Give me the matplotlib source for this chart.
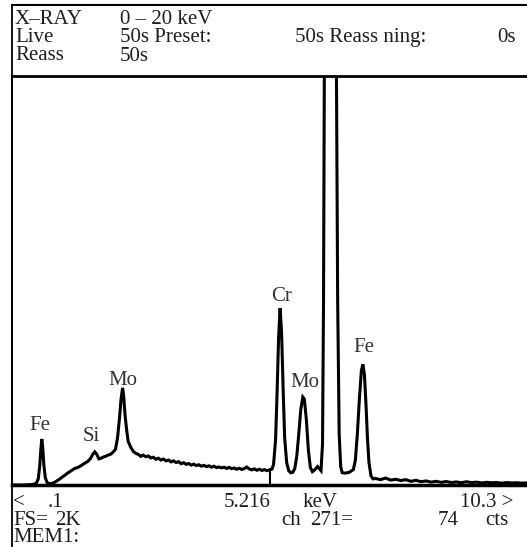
import matplotlib
matplotlib.use("Agg")
import matplotlib.pyplot as plt
from matplotlib.lines import Line2D

# Widmo EDS (keV, zliczenia)
energy_kev = [0.10, 0.30, 0.50, 0.58, 0.62, 0.65, 0.67, 0.69, 0.71, 0.73, 0.76, 0.80, 0.85, 0.90,
              0.95, 1.00, 1.05, 1.10, 1.15, 1.20, 1.25, 1.30, 1.35, 1.40, 1.45, 1.50, 1.55, 1.60,
              1.65, 1.70, 1.74, 1.78, 1.82, 1.86, 1.90, 1.95, 2.00, 2.05, 2.10, 2.15, 2.19, 2.23,
              2.26, 2.29, 2.31, 2.34, 2.37, 2.40, 2.45, 2.50, 2.55, 2.60, 2.65, 2.70, 2.75, 2.80,
              2.85, 2.90, 2.95, 3.00, 3.05, 3.10, 3.15, 3.20, 3.25, 3.30, 3.35, 3.40, 3.45, 3.50,
              3.55, 3.60, 3.65, 3.70, 3.75, 3.80, 3.85, 3.90, 3.95, 4.00, 4.05, 4.10, 4.15, 4.20,
              4.25, 4.30, 4.35, 4.40, 4.45, 4.50, 4.55, 4.60, 4.65, 4.70, 4.75, 4.80, 4.85, 4.90,
              4.95, 5.00, 5.05, 5.10, 5.15, 5.20, 5.25, 5.28, 5.32, 5.35, 5.38, 5.41, 5.44, 5.47,
              5.50, 5.54, 5.58, 5.62, 5.66, 5.70, 5.74, 5.78, 5.82, 5.86, 5.89, 5.93, 5.97, 6.01,
              6.05, 6.10, 6.15, 6.22, 6.25, 6.27, 6.29, 6.33, 6.40, 6.47, 6.52, 6.55, 6.58, 6.61,
              6.64, 6.70, 6.78, 6.86, 6.90, 6.94, 6.98, 7.02, 7.05, 7.08, 7.11, 7.14, 7.17, 7.21,
              7.25, 7.30, 7.40, 7.50, 7.60, 7.70, 7.80, 7.90, 8.00, 8.10, 8.20, 8.30, 8.40, 8.50,
              8.60, 8.70, 8.80, 8.90, 9.00, 9.10, 9.20, 9.30, 9.40, 9.50, 9.60, 9.70, 9.80, 9.90,
              10.00, 10.10, 10.20, 10.30]
counts = [0, 0, 2, 8, 30, 95, 170, 225, 180, 100, 35, 10, 6, 8,
          14, 22, 30, 40, 48, 58, 66, 74, 82, 85, 92, 100, 108, 115,
          128, 150, 162, 150, 128, 130, 136, 140, 146, 150, 160, 175, 230, 330,
          420, 475, 440, 340, 270, 215, 185, 165, 155, 150, 140, 146, 138, 142,
          132, 136, 126, 131, 122, 127, 118, 122, 113, 118, 110, 114, 104, 109,
          101, 105, 97, 102, 95, 99, 92, 96, 90, 94, 87, 92, 85, 88,
          84, 87, 81, 86, 80, 83, 77, 82, 76, 80, 88, 78, 74, 79,
          72, 77, 71, 75, 70, 74, 78, 100, 220, 450, 720, 865, 740, 470,
          230, 110, 70, 60, 62, 80, 140, 250, 370, 430, 420, 320, 170, 85,
          65, 75, 90, 70, 200, 900, 2300, 5000, 8000, 5000, 2300, 900, 250, 90,
          60, 58, 62, 75, 120, 250, 420, 560, 590, 540, 400, 230, 110, 45,
          30, 32, 26, 34, 24, 28, 22, 26, 18, 23, 16, 20, 14, 18,
          13, 17, 12, 15, 11, 16, 12, 14, 10, 13, 11, 12, 9, 12,
          10, 11, 9, 10]

# Opisy pikow
peak_names = ["Fe", "Si", "Mo", "Cr", "Mo", "Fe"]
peak_energy = [0.66, 1.66, 2.30, 5.43, 5.90, 7.07]
label_counts = [290, 235, 510, 920, 500, 670]

cursor_kev = 5.216
cursor_counts = 74

W, H = 527, 547
TXT = "#1e1e1e"
FONT = "Liberation Serif"
FS = 15


def fx(px):
    return px / W


def fy(py):
    return 1 - py / H


fig = plt.figure(figsize=(W / 100, H / 100), dpi=100)

# Obszar widma
ax = fig.add_axes([fx(12), fy(485), (W - 12) / W, (485 - 76) / H])
ax.plot(energy_kev, counts, color="black", lw=2.2, solid_joinstyle="miter")
ax.plot([cursor_kev, cursor_kev], [0, cursor_counts], color="black", lw=1.5)
ax.set_xlim(0.1, 10.3)
ax.set_ylim(0, 2000)
ax.set_xticks([])
ax.set_yticks([])
ax.spines["right"].set_visible(False)
ax.spines["left"].set_linewidth(1.3)
ax.spines["top"].set_linewidth(2.0)
ax.spines["bottom"].set_linewidth(2.5)

for name, e, c in zip(peak_names, peak_energy, label_counts):
    ax.text(e, c, name, ha="center", va="center", fontsize=FS, family=FONT, color="#333333")

# Ramka naglowka
fig.add_artist(Line2D([fx(12), 1], [fy(5), fy(5)], color="black", lw=1.5))
fig.add_artist(Line2D([fx(12), fx(12)], [fy(5), 0], color="black", lw=1.3))

# Naglowek
head = [
    (15, 24, "X–RAY"), (120, 24, "0 – 20 keV"),
    (15, 42, "Live"), (120, 42, "50s Preset:"), (295, 42, "50s Reass ning:"), (497, 42, "0s"),
    (15, 60, "Reass"), (120, 61, "50s"),
]
for x, y, s in head:
    fig.text(fx(x), fy(y), s, fontsize=FS, family=FONT, color=TXT, va="baseline")

# Stopka
foot = [
    (13, 507, "<"), (48, 507, ".1"), (224, 507, "5.216"), (303, 507, "keV"),
    (13, 525, "FS="), (55, 525, "2K"), (281, 525, "ch"), (310, 525, "271="),
    (438, 525, "74"), (485, 525, "cts"),
    (13, 542, "MEM1:"),
]
for x, y, s in foot:
    fig.text(fx(x), fy(y), s, fontsize=FS, family=FONT, color=TXT, va="baseline")
fig.text(fx(513), fy(507), "10.3 >", fontsize=FS, family=FONT, color=TXT, va="baseline", ha="right")

plt.savefig("out.png", dpi=100)
